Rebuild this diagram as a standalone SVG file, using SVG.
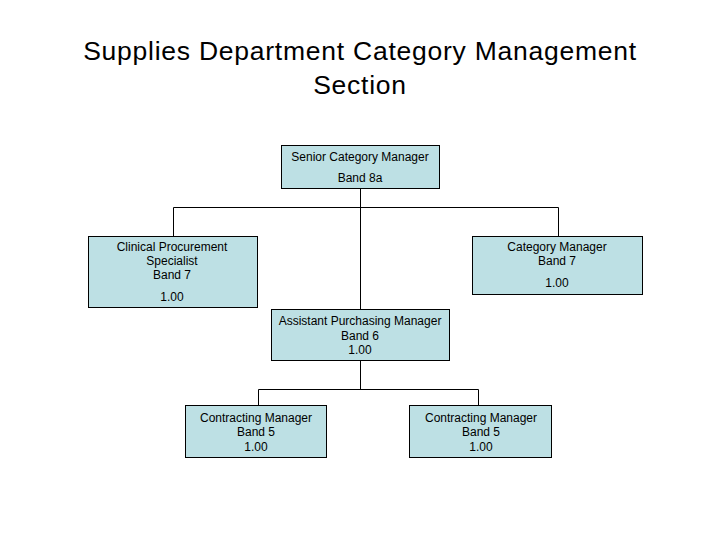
<svg xmlns="http://www.w3.org/2000/svg" width="720" height="540" viewBox="0 0 720 540">
<style>
.box{fill:#bde0e4;stroke:#000;stroke-width:1}
.t{font-family:"Liberation Sans",Arial,sans-serif;font-size:12px;fill:#000;text-anchor:middle}
.title{font-family:"Liberation Sans",Arial,sans-serif;font-size:26.5px;letter-spacing:0.75px;fill:#000;text-anchor:middle}
.c{fill:none;stroke:#000;stroke-width:1}
</style>
<rect width="720" height="540" fill="#fff"/>
<text class="title" x="360" y="60">Supplies Department Category Management</text>
<text class="title" x="360" y="94">Section</text>
<g id="connectors">
<path class="c" d="M360.5 188V309M173.5 236V207.5H558.5V236"/>
<path class="c" d="M360.5 360V389.5M258.5 405V389.5H478.5V405"/>
</g>
<g id="senior">
<rect class="box" x="281.5" y="145.5" width="158" height="43"/>
<text class="t" x="360" y="161">Senior Category Manager</text>
<text class="t" x="360" y="182">Band 8a</text>
</g>
<g id="clinical">
<rect class="box" x="88.5" y="236.5" width="169" height="71"/>
<text class="t" x="172" y="251">Clinical Procurement</text>
<text class="t" x="172" y="265">Specialist</text>
<text class="t" x="172" y="279">Band 7</text>
<text class="t" x="172" y="301">1.00</text>
</g>
<g id="category">
<rect class="box" x="472.5" y="236.5" width="170" height="58"/>
<text class="t" x="557" y="251">Category Manager</text>
<text class="t" x="557" y="265">Band 7</text>
<text class="t" x="557" y="287">1.00</text>
</g>
<g id="assistant">
<rect class="box" x="271.5" y="309.5" width="178" height="51"/>
<text class="t" x="360" y="325">Assistant Purchasing Manager</text>
<text class="t" x="360" y="340">Band 6</text>
<text class="t" x="360" y="354">1.00</text>
</g>
<g id="contracting1">
<rect class="box" x="185.5" y="405.5" width="141" height="52"/>
<text class="t" x="256" y="422">Contracting Manager</text>
<text class="t" x="256" y="436">Band 5</text>
<text class="t" x="256" y="451">1.00</text>
</g>
<g id="contracting2">
<rect class="box" x="409.5" y="405.5" width="142" height="52"/>
<text class="t" x="481" y="422">Contracting Manager</text>
<text class="t" x="481" y="436">Band 5</text>
<text class="t" x="481" y="451">1.00</text>
</g>
</svg>
